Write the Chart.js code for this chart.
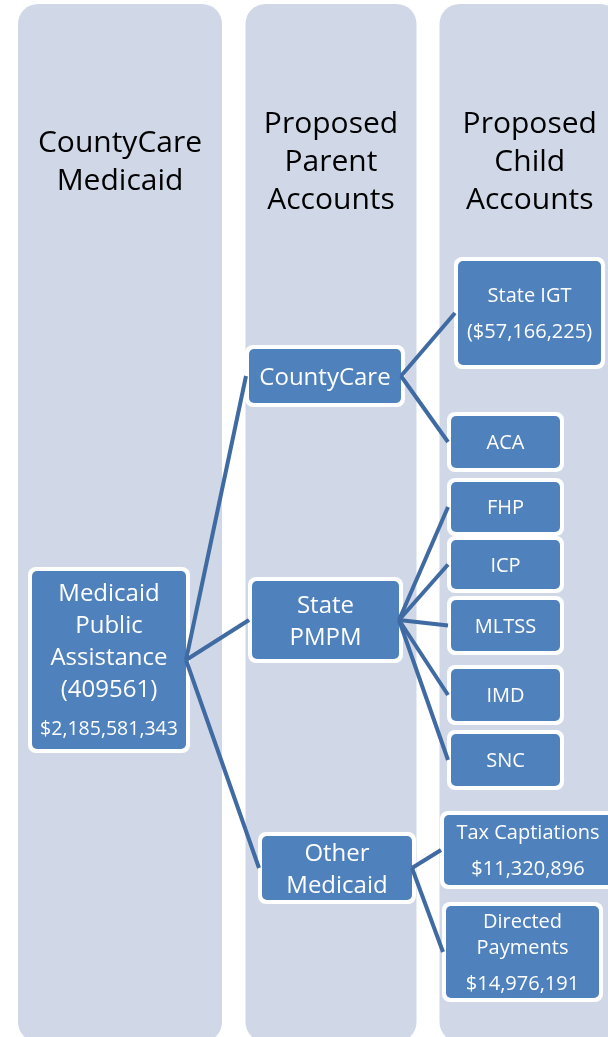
<!DOCTYPE html>
<html>
<head>
<meta charset="utf-8">
<script src="https://cdn.jsdelivr.net/npm/chart.js@4.4.1/dist/chart.umd.min.js"></script>
<style>
  html, body { margin: 0; padding: 0; background: #fff; }
  #wrap { width: 608px; height: 1037px; }
</style>
</head>
<body>
<div id="wrap"><canvas id="diagram" width="608" height="1037"></canvas></div>
<script>
// column headings
const columnTitles = [
    ['CountyCare', 'Medicaid'],
    ['Proposed', 'Parent', 'Accounts'],
    ['Proposed', 'Child', 'Accounts']
];

// accounts: text lines, amount and parent (index into the same lists)
const nodeNames = [
    ['Medicaid', 'Public', 'Assistance', '(409561)'],
    ['CountyCare'],
    ['State', 'PMPM'],
    ['Other', 'Medicaid'],
    ['State IGT'],
    ['ACA'],
    ['FHP'],
    ['ICP'],
    ['MLTSS'],
    ['IMD'],
    ['SNC'],
    ['Tax Captiations'],
    ['Directed', 'Payments']
];
const nodeAmounts = ['$2,185,581,343', '', '', '', '($57,166,225)', '', '', '', '', '', '', '$11,320,896', '$14,976,191'];
const nodeParents = [-1, 0, 0, 0, 1, 1, 2, 2, 2, 2, 2, 3, 3];

// layout, in value units of the 608 x 1037 scales
const columnBands = [[18, 222], [245.5, 416.5], [439.5, 620]];
const columnTop = 4;
const columnBottom = 1042;
const headerCenterY = 160;
const headerLineGap = 38;
// outer edge of each account box: left, top, right, bottom
const nodeBoxes = [
    [28, 567, 190, 753],
    [245, 345, 405, 407],
    [248, 577, 403, 663],
    [258, 832, 416, 904],
    [454, 257, 605, 369],
    [447, 412, 564, 472],
    [447, 478, 564, 536],
    [447, 536, 564, 593],
    [447, 596, 564, 655],
    [447, 665, 564, 725],
    [447, 730, 564, 790],
    [440, 811, 616, 889],
    [442, 902, 603, 1002]
];

const FONT = "'Open Sans', 'Noto Sans', sans-serif";
const levelStyle = [
    { size: 24, lineGap: 32, amountSize: 19.5, amountGap: 40 },
    { size: 24, lineGap: 32, amountSize: 20, amountGap: 36 },
    { size: 20, lineGap: 26, amountSize: 20, amountGap: 36 }
];

function levelOf(i) {
    let level = 0;
    while (nodeParents[i] >= 0) { i = nodeParents[i]; level++; }
    return level;
}

function roundRect(ctx, x0, y0, x1, y1, r) {
    ctx.beginPath();
    ctx.moveTo(x0 + r, y0);
    ctx.arcTo(x1, y0, x1, y1, r);
    ctx.arcTo(x1, y1, x0, y1, r);
    ctx.arcTo(x0, y1, x0, y0, r);
    ctx.arcTo(x0, y0, x1, y0, r);
    ctx.closePath();
}

// connectors: parent right edge -> child left edge
const connectorSets = [];
nodeParents.forEach((p, i) => {
    if (p < 0) return;
    const pb = nodeBoxes[p], cb = nodeBoxes[i];
    connectorSets.push({
        data: [
            { x: pb[2] - 4, y: (pb[1] + pb[3]) / 2 },
            { x: cb[0] + 1, y: (cb[1] + cb[3]) / 2 }
        ],
        showLine: true,
        borderColor: '#3f6aa2',
        borderWidth: 4,
        pointRadius: 0,
        borderCapStyle: 'butt'
    });
});

// columns, headings and boxes are drawn through the same scales
const diagramPlugin = {
    id: 'diagram',
    beforeDatasetsDraw(chart) {
        const ctx = chart.ctx;
        const sx = chart.scales.x, sy = chart.scales.y;
        ctx.save();

        columnBands.forEach((band, c) => {
            const x0 = sx.getPixelForValue(band[0]), x1 = sx.getPixelForValue(band[1]);
            const y0 = sy.getPixelForValue(columnTop), y1 = sy.getPixelForValue(columnBottom);
            ctx.fillStyle = '#d0d8e8';
            roundRect(ctx, x0, y0, x1, y1, 20);
            ctx.fill();

            const lines = columnTitles[c];
            ctx.fillStyle = '#000';
            ctx.font = '30px ' + FONT;
            ctx.textAlign = 'center';
            ctx.textBaseline = 'alphabetic';
            const start = headerCenterY - (lines.length - 1) * headerLineGap / 2;
            lines.forEach((t, k) => {
                const yy = sy.getPixelForValue(start + k * headerLineGap) + 30 * 0.36;
                ctx.fillText(t, (x0 + x1) / 2, yy);
            });
        });

        nodeBoxes.forEach((b, i) => {
            const x0 = sx.getPixelForValue(b[0]), x1 = sx.getPixelForValue(b[2]);
            const y0 = sy.getPixelForValue(b[1]), y1 = sy.getPixelForValue(b[3]);
            ctx.fillStyle = '#ffffff';
            roundRect(ctx, x0, y0, x1, y1, 8);
            ctx.fill();
            ctx.fillStyle = '#4f81bd';
            roundRect(ctx, x0 + 4, y0 + 4, x1 - 4, y1 - 4, 5);
            ctx.fill();

            const st = levelStyle[levelOf(i)];
            const names = nodeNames[i];
            const items = names.map((t, k) => ({ t, size: st.size, off: k * st.lineGap }));
            if (nodeAmounts[i]) {
                items.push({ t: nodeAmounts[i], size: st.amountSize, off: (names.length - 1) * st.lineGap + st.amountGap });
            }
            const span = items[items.length - 1].off;
            const cy = (y0 + y1) / 2 - span / 2;
            ctx.fillStyle = '#ffffff';
            ctx.textAlign = 'center';
            items.forEach(it => {
                ctx.font = it.size + 'px ' + FONT;
                ctx.fillText(it.t, (x0 + x1) / 2, cy + it.off + it.size * 0.36);
            });
        });
        ctx.restore();
    }
};

new Chart(document.getElementById('diagram'), {
    type: 'scatter',
    data: { datasets: connectorSets },
    options: {
        responsive: false,
        animation: false,
        devicePixelRatio: 1,
        layout: { padding: 0 },
        plugins: { legend: { display: false }, tooltip: { enabled: false } },
        scales: {
            x: { type: 'linear', min: 0, max: 608, display: false },
            y: { type: 'linear', min: 0, max: 1037, reverse: true, display: false }
        }
    },
    plugins: [diagramPlugin]
});
</script>
</body>
</html>
